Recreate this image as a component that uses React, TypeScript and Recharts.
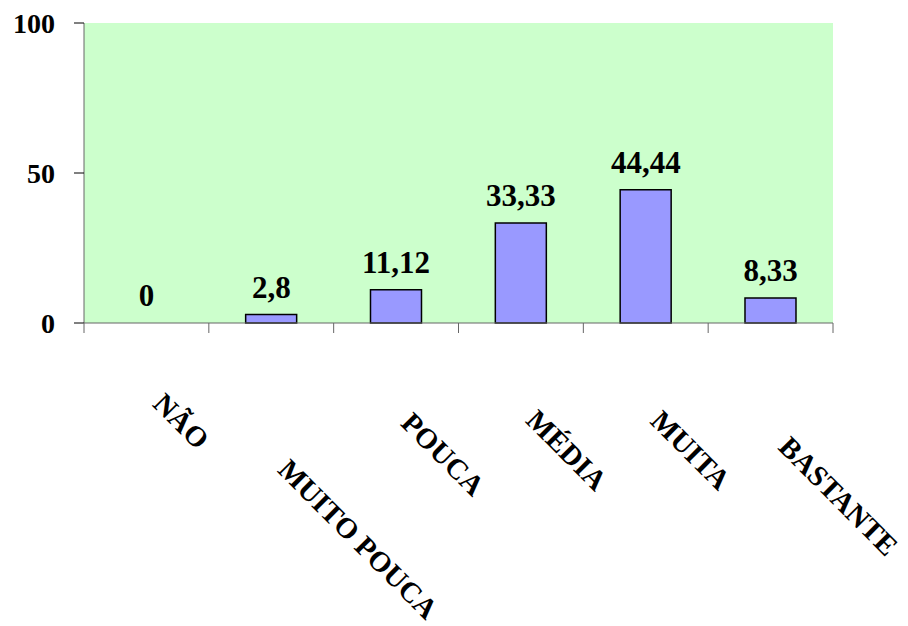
import React from 'react';
import { ComposedChart, Bar, Line, XAxis, YAxis, CartesianGrid, LabelList } from 'recharts';

const categories = ['NÃO', 'MUITO POUCA', 'POUCA', 'MÉDIA', 'MUITA', 'BASTANTE'];
const values = [0, 2.8, 11.12, 33.33, 44.44, 8.33];
const yTicks = [0, 50, 100];

const data = categories.map((name, i) => ({ name, value: values[i] }));

const W = 908;
const H = 626;
const margin = { top: 23, right: 75, left: 0, bottom: 0 };
const yAxisWidth = 84;
const plotWidth = W - margin.right - yAxisWidth;
const band = plotWidth / categories.length;

// label centre offsets from the tick point (the original labels are staggered)
const labelShift: [number, number][] = [
  [35, 88],
  [87, 206],
  [47, 121],
  [46, 117],
  [45, 117],
  [68, 163],
];

const font = "'Liberation Serif', 'Times New Roman', serif";

const fmt = (v: any) => String(v).replace('.', ',');

function CategoryTick(props: any) {
  const { x, y, payload, index } = props;
  const [dx, dy] = labelShift[index] || [0, 0];
  const axisY = y - 10;
  const cx = x + dx;
  const cy = y + dy;
  return (
    <g>
      <line x1={x - band / 2} x2={x - band / 2} y1={axisY} y2={axisY + 10} stroke="#666" />
      {index === categories.length - 1 && (
        <line x1={x + band / 2} x2={x + band / 2} y1={axisY} y2={axisY + 10} stroke="#666" />
      )}
      <text
        x={cx}
        y={cy}
        textAnchor="middle"
        dominantBaseline="central"
        transform={`rotate(45 ${cx} ${cy})`}
        style={{ fontFamily: font, fontWeight: 'bold', fontSize: 29 }}
        fill="#000"
      >
        {payload.value}
      </text>
    </g>
  );
}

export default function App() {
  return (
    <div style={{ position: 'absolute', left: 0, top: 0, background: '#fff', fontFamily: font }}>
      <ComposedChart width={W} height={H} data={data} margin={margin} barCategoryGap="29.5%">
        <CartesianGrid horizontal={false} vertical={false} fill="#ccffcc" stroke="none" />
        <XAxis
          dataKey="name"
          height={H - 323}
          axisLine={{ stroke: '#666' }}
          tickLine={false}
          tickSize={10}
          tickMargin={0}
          interval={0}
          tick={<CategoryTick />}
        />
        <YAxis
          width={yAxisWidth}
          domain={[0, 100]}
          ticks={yTicks}
          axisLine={{ stroke: '#666' }}
          tickLine={{ stroke: '#000' }}
          tickSize={10}
          tickMargin={19}
          tick={{ fill: '#000', fontSize: 28, fontWeight: 'bold', style: { fontFamily: font } }}
        />
        <Bar dataKey="value" fill="#9999ff" stroke="#000" strokeWidth={1.5} isAnimationActive={false} />
        <Line dataKey="value" stroke="none" dot={false} activeDot={false} isAnimationActive={false}>
          <LabelList
            dataKey="value"
            position="top"
            offset={17}
            formatter={fmt}
            fill="#000"
            fontSize={31}
            fontWeight="bold"
            style={{ fontFamily: font }}
          />
        </Line>
      </ComposedChart>
    </div>
  );
}
